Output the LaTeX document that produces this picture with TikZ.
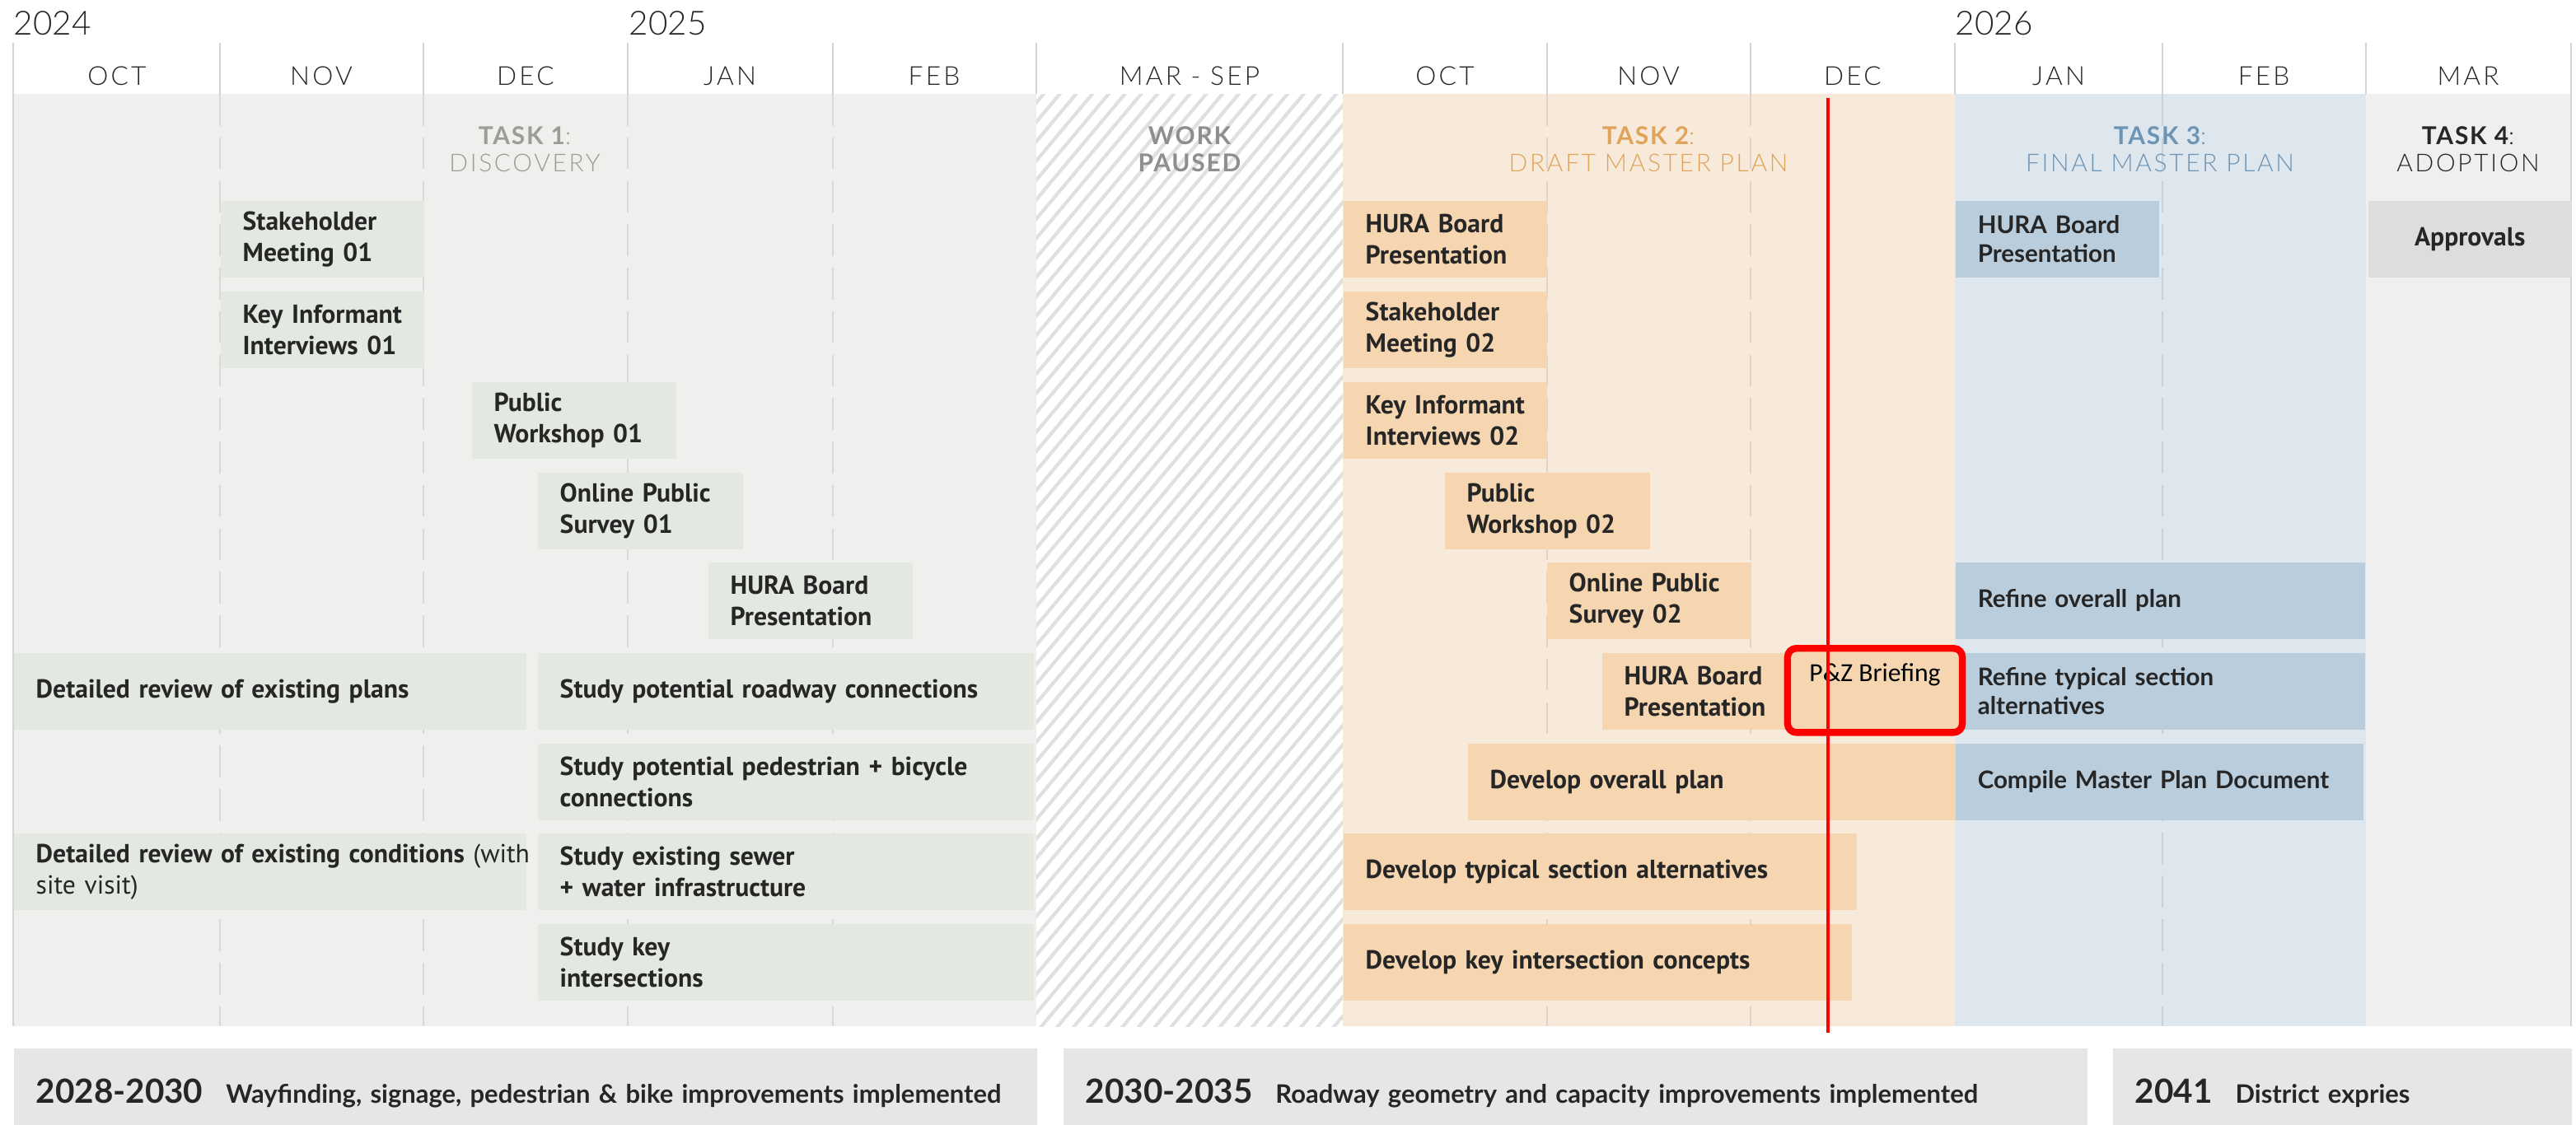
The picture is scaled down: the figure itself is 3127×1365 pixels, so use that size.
\documentclass[tikz,border=0pt]{standalone}
\usepackage{fontspec}
\usetikzlibrary{patterns.meta}
\setmainfont{PT Sans}
\newfontfamily\geo{Lato}
\newfontfamily\geolight{Lato Light}
\newfontfamily\monthfont[LetterSpace=10]{Lato Light}
\newfontfamily\headfont[LetterSpace=9]{Lato Light}
\newfontfamily\headbold[LetterSpace=6]{Lato}
\newfontfamily\briefing{Carlito}
\definecolor{ink}{HTML}{262626}
\definecolor{rule}{HTML}{D4D4D4}
\definecolor{bgone}{HTML}{EFEFED}
\definecolor{barone}{HTML}{E3E8E0}
\definecolor{bgtwo}{HTML}{F8EADB}
\definecolor{bartwo}{HTML}{F5D6B1}
\definecolor{bgthree}{HTML}{DEE6EE}
\definecolor{barthree}{HTML}{B9CDDD}
\definecolor{bgfour}{HTML}{EFEFEF}
\definecolor{barfour}{HTML}{DDDDDD}
\definecolor{later}{HTML}{E6E6E6}
\definecolor{hdone}{HTML}{9D9D95}
\definecolor{hdtwo}{HTML}{DFA35A}
\definecolor{hdthree}{HTML}{6E94B3}
\definecolor{paused}{HTML}{8E8E8E}
\definecolor{hatch}{HTML}{E0E0E0}
\definecolor{nowred}{HTML}{FF0000}

\begin{document}
\begin{tikzpicture}[x=0.01cm, y=-0.01cm,
    bar/.style={anchor=north west, minimum height=0.93cm, inner xsep=0.27cm, inner ysep=0pt,
        align=left, text=ink, font=\fontsize{9}{10.8}\selectfont\bfseries},
    one/.style={bar, fill=barone},
    two/.style={bar, fill=bartwo},
    three/.style={bar, fill=barthree, font=\geo\fontsize{8.4}{10}\selectfont\bfseries},
    later/.style={anchor=north west, fill=later, minimum height=1.1cm, inner xsep=0.27cm,
        inner ysep=0pt, align=left, text=ink, font=\geo\fontsize{8.8}{10}\selectfont\bfseries},
    yr/.style={anchor=west, inner sep=0pt, text=ink, font=\geolight\fontsize{11.5}{11.5}\selectfont},
    mon/.style={text=ink, font=\monthfont\fontsize{9}{9}\selectfont},
    task/.style={align=center, font=\headfont\fontsize{8.5}{9.4}\selectfont},
    brief/.style={anchor=north, draw=nowred, line width=2.4pt, rounded corners=3pt, fill=bartwo,
        minimum width=2.12cm, text height=0.3cm, text depth=0.52cm, inner ysep=0.1cm,
        text=black, font=\briefing\fontsize{9}{9}\selectfont},
    grid/.style={draw=black, draw opacity=0.09, line width=0.6pt, dash pattern=on 11pt off 4pt},
    rule/.style={draw=rule, line width=0.5pt},
    nowline/.style={draw=nowred, line width=1.2pt}]

    \useasboundingbox[fill=white] (0,0) rectangle (3127,1365);

    \fill[bgone] (16,114) rectangle (1258,1246);
    \fill[white] (1258,114) rectangle (1630,1246);
    \fill[pattern={Lines[angle=50, distance=4.3pt, line width=1.2pt]}, pattern color=hatch]
        (1258,114) rectangle (1630,1246);
    \fill[bgtwo] (1630,114) rectangle (2373,1246);
    \fill[bgthree] (2373,114) rectangle (2872,1246);
    \fill[bgfour] (2872,114) rectangle (3121,1246);

    \draw[grid] (267,114) -- (267,1246) (514,114) -- (514,1246) (762,114) -- (762,1246)
        (1011,114) -- (1011,1246) (1878,114) -- (1878,1246) (2125,114) -- (2125,1246)
        (2625,114) -- (2625,1246);
    \draw[rule] (16,52) -- (16,1246) (267,52) -- (267,114) (514,52) -- (514,114)
        (762,52) -- (762,114) (1011,52) -- (1011,114) (1258,52) -- (1258,114)
        (1630,52) -- (1630,114) (1878,52) -- (1878,114) (2125,52) -- (2125,114)
        (2373,52) -- (2373,114) (2625,52) -- (2625,114) (2872,52) -- (2872,114)
        (3121,52) -- (3121,1246);

    \node[yr] (y24) at (16,28) {2024};
    \node[yr] (y25) at (763,28) {2025};
    \node[yr] (y26) at (2373,28) {2026};

    \node[mon] (m1) at (142,92) {OCT};
    \node[mon] (m2) at (390,92) {NOV};
    \node[mon] (m3) at (638,92) {DEC};
    \node[mon] (m4) at (886,92) {JAN};
    \node[mon] (m5) at (1134,92) {FEB};
    \node[mon] (m6) at (1444,92) {MAR - SEP};
    \node[mon] (m7) at (1754,92) {OCT};
    \node[mon] (m8) at (2001,92) {NOV};
    \node[mon] (m9) at (2249,92) {DEC};
    \node[mon] (m10) at (2499,92) {JAN};
    \node[mon] (m11) at (2748,92) {FEB};
    \node[mon] (m12) at (2996,92) {MAR};

    \node[task, text=hdone] (task1) at (637,181) {{\headbold\bfseries TASK 1}:\\DISCOVERY};
    \node[task, text=paused, font=\headbold\fontsize{8.5}{9.4}\selectfont\bfseries] (pause) at (1444,181) {WORK\\PAUSED};
    \node[task, text=hdtwo] (task2) at (2001,181) {{\headbold\bfseries TASK 2}:\\DRAFT MASTER PLAN};
    \node[task, text=hdthree] (task3) at (2622,181) {{\headbold\bfseries TASK 3}:\\FINAL MASTER PLAN};
    \node[task, text=ink] (task4) at (2996,181) {{\headbold\bfseries TASK 4}:\\ADOPTION};

    \node[one, text width=1.93cm] (meet1) at (267,243) {Stakeholder\\Meeting 01};
    \node[one, text width=1.93cm] (keys1) at (267,353) {\mbox{Key Informant}\\Interviews 01};
    \node[one, text width=1.94cm] (shop1) at (572,463) {Public\\Workshop 01};
    \node[one, text width=1.95cm] (survey1) at (652,573) {Online Public\\Survey 01};
    \node[one, text width=1.94cm] (board1) at (859,682) {HURA Board\\Presentation};
    \node[one, text width=5.68cm] (plans) at (16,792) {Detailed review of existing plans};
    \node[one, text width=5.48cm] (roads) at (652,792) {Study potential roadway connections};
    \node[one, text width=5.48cm] (bikes) at (652,902) {Study potential pedestrian + bicycle\\connections};
    \node[one, text width=5.68cm] (conds) at (16,1011) {\mbox{Detailed review of existing conditions {\mdseries (with}}\\{\mdseries site visit)}};
    \node[one, text width=5.48cm] (sewer) at (652,1011) {Study existing sewer\\+ water infrastructure};
    \node[one, text width=5.48cm] (cross1) at (652,1121) {Study key\\intersections};

    \node[two, text width=1.93cm] (board2) at (1630,243) {HURA Board\\Presentation};
    \node[two, text width=1.93cm] (meet2) at (1630,353) {Stakeholder\\Meeting 02};
    \node[two, text width=1.93cm] (keys2) at (1630,463) {\mbox{Key Informant}\\Interviews 02};
    \node[two, text width=1.95cm] (shop2) at (1753,573) {Public\\Workshop 02};
    \node[two, text width=1.94cm] (survey2) at (1877,682) {Online Public\\Survey 02};
    \node[two, text width=1.94cm] (board3) at (1944,792) {HURA Board\\Presentation};
    \node[two, text width=5.38cm] (overall) at (1781,902) {Develop overall plan};
    \node[two, text width=5.69cm] (sections) at (1630,1011) {Develop typical section alternatives};
    \node[two, text width=5.63cm] (cross2) at (1630,1121) {Develop key intersection concepts};

    \node[three, text width=1.93cm] (board4) at (2373,243) {HURA Board\\Presentation};
    \node[three, text width=4.43cm] (refine) at (2373,682) {Refine overall plan};
    \node[three, text width=4.43cm] (typical) at (2373,792) {Refine typical section\\alternatives};
    \node[three, text width=4.41cm] (compile) at (2373,902) {Compile Master Plan Document};

    \node[bar, fill=barfour, align=center, text width=1.93cm] (approve) at (2874,243) {Approvals};

    \node[later, text width=11.88cm] (wayfind) at (16,1272)
        {{\fontsize{11.5}{12}\selectfont 2028-2030}\hspace{0.28cm}Wayfinding, signage, pedestrian \& bike improvements implemented};
    \node[later, text width=11.89cm] (roadway) at (1290,1272)
        {{\fontsize{11.5}{12}\selectfont 2030-2035}\hspace{0.28cm}Roadway geometry and capacity improvements implemented};
    \node[later, text width=5.03cm] (expire) at (2564,1272)
        {{\fontsize{11.5}{12}\selectfont 2041}\hspace{0.28cm}District expries};

    \node[brief] (pz) at (2276,783) {P\&Z Briefing};

    \coordinate (now top) at (2219,119);
    \coordinate (now bot) at (2219,1254);
    \draw[nowline] (now top) -- (now bot);
\end{tikzpicture}
\end{document}
